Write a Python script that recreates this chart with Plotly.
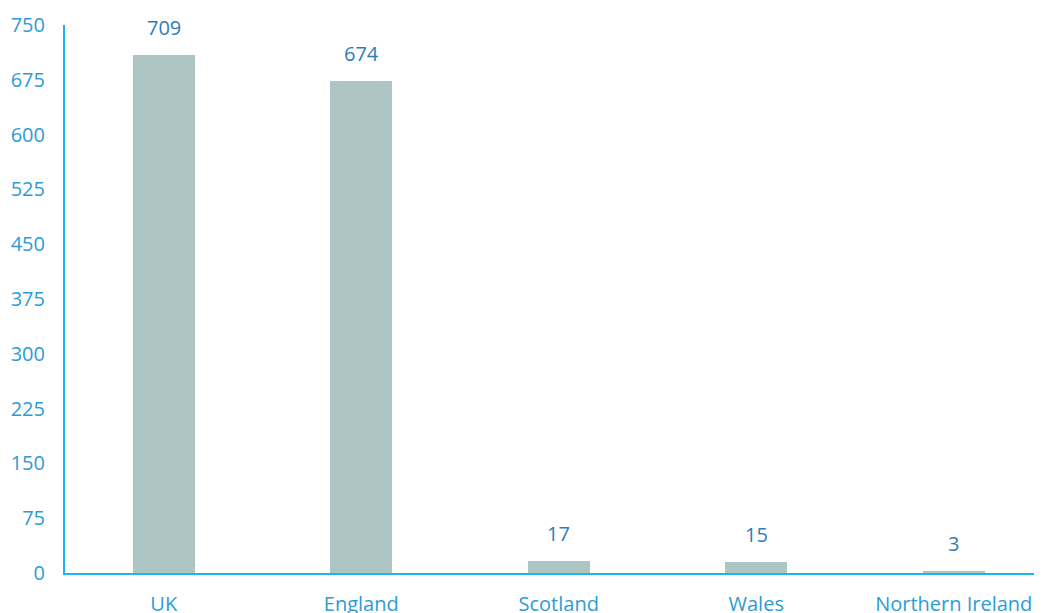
import plotly.graph_objects as go

categories = ["UK", "England", "Scotland", "Wales", "Northern Ireland"]
values = [709, 674, 17, 15, 3]
y_ticks = [0, 75, 150, 225, 300, 375, 450, 525, 600, 675, 750]

bar_color = "#AEC6C3"
axis_color = "#1EB4F0"
tick_color = "#2E9BD6"
label_color = "#2F7DB5"
font_family = "Open Sans, Noto Sans, sans-serif"

fig = go.Figure()
fig.add_trace(go.Bar(
    x=list(range(len(categories))),
    y=values,
    width=0.314,
    marker=dict(color=bar_color, line=dict(width=0)),
    hoverinfo="skip",
))

for i, v in enumerate(values):
    fig.add_annotation(
        x=i, y=v, text=str(v), showarrow=False,
        yanchor="bottom", yshift=12,
        font=dict(family=font_family, size=20, color=label_color),
    )

fig.update_layout(
    width=1042, height=613,
    margin=dict(l=57, r=8, t=17, b=48, autoexpand=False),
    paper_bgcolor="white", plot_bgcolor="white",
    showlegend=False,
    font=dict(family=font_family, size=20, color=tick_color),
    bargap=0,
)
fig.update_xaxes(
    range=[-0.5, 4.447],
    tickvals=list(range(len(categories))),
    ticktext=categories,
    showgrid=False, zeroline=False,
    showline=True, linecolor=axis_color, linewidth=2,
    ticks="", ticklabelstandoff=12,
    tickfont=dict(family=font_family, size=20, color=tick_color),
)
fig.update_yaxes(
    range=[0, 750],
    tickvals=y_ticks,
    showgrid=False, zeroline=False,
    showline=True, linecolor=axis_color, linewidth=2,
    ticks="", ticklabelstandoff=14,
    tickfont=dict(family=font_family, size=20, color=tick_color),
)

fig.write_html("out.html")
